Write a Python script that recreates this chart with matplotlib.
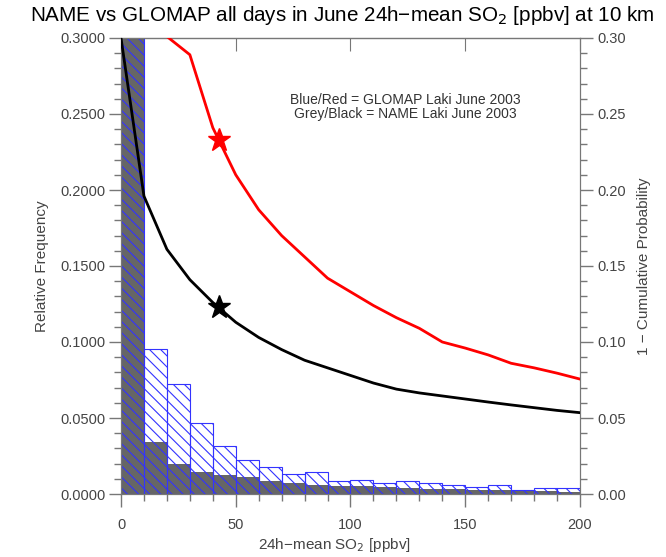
import numpy as np
import matplotlib
matplotlib.use("Agg")
import matplotlib.pyplot as plt
from matplotlib.ticker import MultipleLocator, FormatStrFormatter

plt.rcParams['font.family'] = ['Liberation Sans', 'DejaVu Sans']
plt.rcParams['hatch.linewidth'] = 0.8

# histogram bin edges (left edges) and relative frequencies
bin_left = np.arange(0, 200, 10)
glomap_freq = [0.60, 0.0952, 0.0723, 0.0468, 0.0316, 0.0222, 0.0176, 0.0133, 0.0146, 0.0087,
               0.0092, 0.0070, 0.0083, 0.0070, 0.0061, 0.0044, 0.0061, 0.0026, 0.0037, 0.0037]
name_freq = [0.65, 0.0344, 0.0198, 0.0148, 0.0124, 0.0109, 0.0087, 0.0072, 0.0061, 0.0054,
             0.0050, 0.0045, 0.0040, 0.0036, 0.0032, 0.0028, 0.0025, 0.0021, 0.0018, 0.0016]

# 1 - cumulative probability curves
name_x = np.arange(0, 201, 10)
name_exceed = [0.30, 0.196, 0.161, 0.141, 0.126, 0.113, 0.103, 0.095, 0.088, 0.083, 0.078,
               0.073, 0.069, 0.0665, 0.0645, 0.0625, 0.0605, 0.0586, 0.0568, 0.055, 0.0535]
glomap_x = np.arange(20, 201, 10)
glomap_exceed = [0.301, 0.289, 0.241, 0.210, 0.187, 0.170, 0.156, 0.142, 0.133, 0.124,
                 0.116, 0.109, 0.100, 0.096, 0.0915, 0.086, 0.083, 0.0795, 0.0756]

# star markers (mean values)
star_x = 42.5
glomap_star = 0.2327
name_star = 0.1232

axc = '#777777'
txc = '#444444'

fig = plt.figure(figsize=(6.66, 5.57), dpi=100)
ax = fig.add_axes([121/666, 1-494/557, (580-121)/666, (494-38)/557])

ax.bar(bin_left, name_freq, width=10, align='edge', color='#666666', linewidth=0, zorder=1)
ax.bar(bin_left, glomap_freq, width=10, align='edge', facecolor='none', edgecolor='#3333ff',
       hatch='\\\\\\', linewidth=0.8, zorder=2)

ax.set_xlim(0, 200)
ax.set_ylim(0, 0.3)
ax.xaxis.set_major_locator(MultipleLocator(50))
ax.xaxis.set_minor_locator(MultipleLocator(10))
ax.yaxis.set_major_locator(MultipleLocator(0.05))
ax.yaxis.set_minor_locator(MultipleLocator(0.01))
ax.yaxis.set_major_formatter(FormatStrFormatter('%.4f'))
ax.tick_params(which='both', direction='out', colors=axc, labelcolor=txc, labelsize=10.5)
ax.tick_params(which='major', length=9, width=1)
ax.tick_params(which='minor', length=5, width=1)
ax.tick_params(axis='y', which='major', pad=2)
ax.tick_params(axis='x', which='major', pad=8)
for s in ax.spines.values():
    s.set_color(axc)
ax.set_ylabel('Relative Frequency', fontsize=11, color=txc, labelpad=8)
ax.set_xlabel('24h\u2212mean SO$_2$ [ppbv]', fontsize=11, color=txc)
ax.xaxis.set_label_coords(0.465, -0.093)

ax2 = ax.twinx()
ax2.plot(name_x, name_exceed, color='black', linewidth=2, zorder=3)
ax2.plot(glomap_x, glomap_exceed, color='red', linewidth=2, zorder=3)
ax2.plot(star_x, name_star, marker='*', color='black', markersize=17, zorder=4)
ax2.plot(star_x, glomap_star, marker='*', color='red', markersize=17, zorder=4)
ax2.set_ylim(0, 0.3)
ax2.yaxis.set_major_locator(MultipleLocator(0.05))
ax2.yaxis.set_minor_locator(MultipleLocator(0.01))
ax2.yaxis.set_major_formatter(FormatStrFormatter('%.2f'))
ax2.tick_params(which='both', direction='out', colors=axc, labelcolor=txc, labelsize=10.5)
ax2.tick_params(which='major', length=9, width=1)
ax2.tick_params(which='minor', length=5, width=1)
for s in ax2.spines.values():
    s.set_color(axc)
ax2.set_ylabel('1 \u2212 Cumulative Probability', fontsize=11, color=txc, labelpad=8)

# top ticks pointing inward
secx = ax.secondary_xaxis('top')
secx.xaxis.set_major_locator(MultipleLocator(50))
secx.tick_params(direction='in', length=9, colors=axc, labeltop=False)

ax2.text(0.62, 0.848, 'Blue/Red = GLOMAP Laki June 2003\nGrey/Black = NAME Laki June 2003',
         transform=ax.transAxes, ha='center', va='center', fontsize=10, color='#333333',
         linespacing=1.0)

fig.text(0.514, 0.972, 'NAME vs GLOMAP all days in June 24h\u2212mean SO$_2$ [ppbv] at 10 km',
         ha='center', va='center', fontsize=14.9)

fig.savefig('out.png', dpi=100)
